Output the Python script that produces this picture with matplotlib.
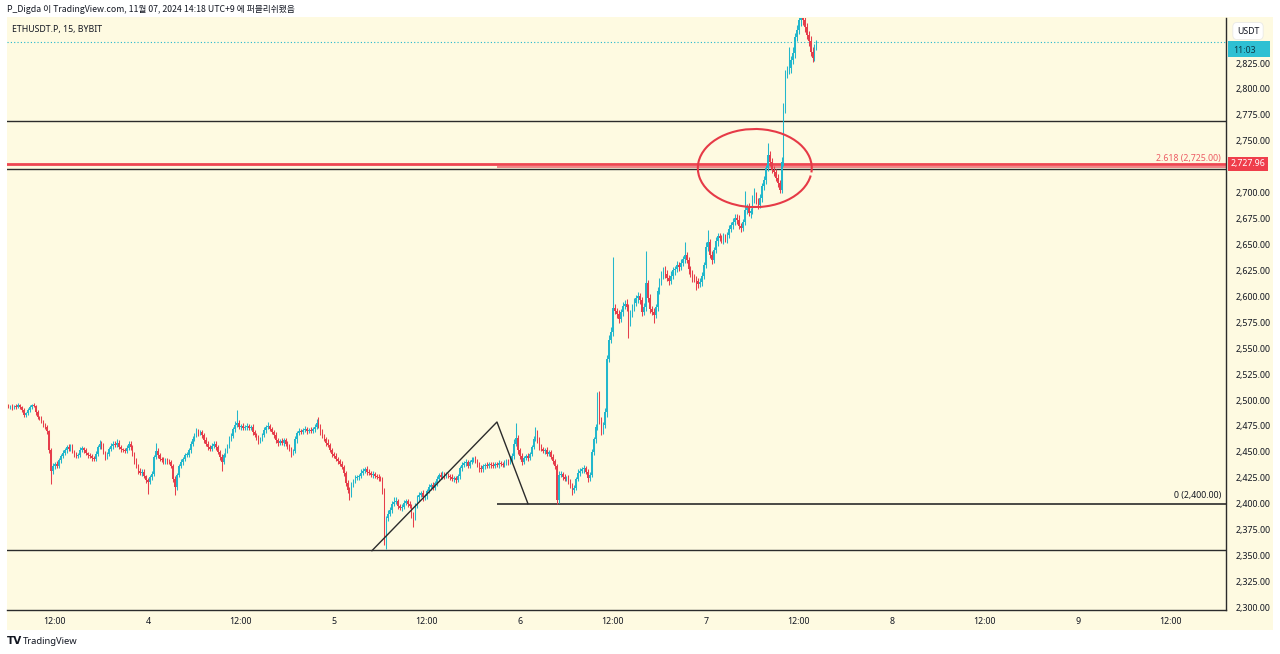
import matplotlib.pyplot as plt
import matplotlib.transforms as mtransforms
from matplotlib.patches import Arc, Rectangle
import numpy as np

# ETHUSDT.P 15m closes, Nov 3 06:00 -> Nov 7 14:15 (UTC+9), 8 bars per row
closes = [
    2493, 2494, 2492, 2494, 2493, 2495, 2493, 2490,
    2486, 2487, 2490, 2493, 2495, 2494, 2488, 2484,
    2483, 2480, 2476, 2474, 2470, 2452, 2432, 2436,
    2438, 2436, 2442, 2446, 2449, 2452, 2455, 2453,
    2456, 2451, 2448, 2446, 2447, 2452, 2454, 2452,
    2449, 2447, 2446, 2444, 2443, 2448, 2455, 2458,
    2456, 2450, 2445, 2448, 2453, 2456, 2458, 2457,
    2459, 2455, 2453, 2452, 2451, 2454, 2458, 2455,
    2448, 2441, 2436, 2432, 2430, 2431, 2427, 2423,
    2421, 2426, 2429, 2445, 2451, 2447, 2443, 2442,
    2440, 2442, 2441, 2440, 2436, 2424, 2416, 2428,
    2436, 2440, 2443, 2447, 2447, 2452, 2458, 2462,
    2466, 2470, 2468, 2469, 2466, 2461, 2458, 2455,
    2453, 2456, 2458, 2455, 2450, 2445, 2440, 2447,
    2452, 2456, 2462, 2465, 2472, 2476, 2478, 2474,
    2475, 2473, 2474, 2475, 2473, 2474, 2469, 2466,
    2463, 2461, 2462, 2466, 2471, 2474, 2475, 2472,
    2469, 2466, 2461, 2459, 2460, 2459, 2461, 2458,
    2455, 2453, 2449, 2451, 2462, 2468, 2470, 2469,
    2471, 2472, 2470, 2471, 2470, 2472, 2474, 2478,
    2475, 2469, 2465, 2462, 2459, 2457, 2452, 2448,
    2446, 2443, 2441, 2438, 2435, 2430, 2420, 2413,
    2408, 2419, 2422, 2425, 2426, 2427, 2430, 2432,
    2433, 2431, 2430, 2428, 2429, 2427, 2426, 2425,
    2424, 2412, 2378, 2386, 2390, 2394, 2400, 2402,
    2403, 2398, 2396, 2397, 2401, 2403, 2400, 2398,
    2389, 2386, 2398, 2406, 2408, 2410, 2406, 2407,
    2412, 2416, 2418, 2415, 2420, 2424, 2428, 2426,
    2429, 2427, 2428, 2427, 2426, 2424, 2425, 2423,
    2427, 2434, 2437, 2439, 2440, 2436, 2440, 2442,
    2443, 2441, 2438, 2434, 2433, 2436, 2437, 2436,
    2438, 2437, 2436, 2438, 2437, 2439, 2438, 2437,
    2439, 2441, 2440, 2442, 2446, 2458, 2463, 2452,
    2446, 2440, 2444, 2446, 2444, 2448, 2455, 2462,
    2468, 2462, 2455, 2453, 2451, 2452, 2448, 2450,
    2445, 2441, 2436, 2404, 2428, 2429, 2426, 2424,
    2425, 2422, 2418, 2413, 2415, 2424, 2430, 2432,
    2433, 2434, 2431, 2425, 2428, 2450, 2462, 2474,
    2505, 2481, 2470, 2476, 2488, 2540, 2558, 2566,
    2589, 2586, 2583, 2578, 2585, 2591, 2593, 2590,
    2575, 2583, 2590, 2594, 2598, 2600, 2596, 2585,
    2590, 2613, 2598, 2588, 2585, 2582, 2590, 2605,
    2615, 2620, 2625, 2622, 2618, 2615, 2620, 2625,
    2626, 2630, 2628, 2632, 2636, 2640, 2635, 2626,
    2622, 2618, 2617, 2615, 2612, 2614, 2620, 2630,
    2648, 2652, 2640, 2635, 2645, 2653, 2658, 2656,
    2654, 2657, 2655, 2659, 2665, 2669, 2672, 2676,
    2674, 2668, 2666, 2672, 2683, 2686, 2680, 2682,
    2694, 2698, 2692, 2688, 2695, 2706, 2712, 2724,
    2736, 2730, 2722, 2720, 2714, 2709, 2703, 2730,
    2782, 2815, 2818, 2820, 2828, 2835, 2850, 2857,
    2866, 2868, 2866, 2860, 2852, 2846, 2836, 2830,
    2840, 2845,
]
# wick length above / below the body (USDT)
wick_up = [
    2, 1, 2, 1, 2, 2, 1, 1,   2, 1, 2, 2, 1, 2, 1, 2,
    1, 2, 1, 2, 2, 1, 2, 3,   2, 3, 2, 2, 3, 2, 2, 3,
    2, 2, 1, 2, 2, 3, 2, 1,   2, 1, 2, 2, 2, 3, 2, 3,
    2, 3, 1, 2, 2, 3, 2, 2,   3, 2, 2, 1, 2, 3, 2, 2,
    2, 2, 3, 2, 2, 2, 2, 1,   2, 2, 3, 2, 8, 3, 2, 2,
    3, 2, 2, 2, 2, 2, 3, 2,   2, 3, 2, 2, 3, 2, 2, 3,
    2, 3, 2, 2, 2, 2, 3, 2,   2, 3, 2, 2, 2, 2, 3, 2,
    2, 2, 3, 3, 2, 4, 12, 3,  2, 3, 2, 3, 2, 2, 3, 2,
    2, 3, 2, 2, 3, 2, 4, 2,   2, 2, 3, 2, 2, 3, 2, 2,
    2, 3, 2, 2, 3, 2, 3, 2,   2, 3, 2, 2, 3, 2, 3, 4,
    6, 2, 3, 2, 2, 3, 2, 2,   2, 3, 2, 2, 3, 2, 2, 3,
    3, 2, 2, 3, 2, 2, 3, 2,   2, 3, 2, 2, 3, 2, 2, 3,
    2, 2, 3, 2, 4, 3, 3, 4,   3, 2, 2, 3, 3, 2, 2, 3,
    2, 3, 3, 2, 3, 2, 3, 2,   2, 3, 2, 3, 2, 3, 2, 3,
    3, 2, 3, 2, 2, 3, 2, 2,   2, 2, 3, 2, 3, 2, 2, 3,
    2, 3, 2, 2, 3, 2, 2, 3,   2, 2, 3, 2, 2, 3, 2, 2,
    3, 2, 2, 3, 3, 4, 15, 3,  2, 3, 2, 2, 3, 2, 2, 3,
    6, 3, 2, 3, 2, 2, 3, 2,   2, 3, 2, 2, 4, 3, 2, 3,
    2, 3, 2, 2, 3, 2, 3, 2,   2, 3, 2, 2, 3, 3, 2, 3,
    3, 4, 3, 3, 4, 3, 5, 4,   49, 4, 3, 4, 3, 4, 3, 4,
    3, 4, 3, 4, 3, 4, 3, 3,   4, 31, 3, 4, 3, 4, 3, 4,
    3, 4, 3, 4, 3, 3, 4, 3,   3, 4, 3, 4, 3, 12, 3, 3,
    3, 3, 4, 3, 3, 4, 3, 3,   4, 12, 3, 4, 3, 4, 3, 3,
    3, 4, 3, 3, 4, 3, 4, 3,   3, 4, 3, 3, 19, 3, 4, 3,
    4, 6, 3, 3, 4, 3, 4, 3,   12, 4, 3, 4, 3, 4, 3, 4,
    4, 3, 4, 20, 4, 5, 4, 5,  14, 12, 8, 5, 4, 4, 5, 4,
    3, 2,
]
wick_dn = [
    1, 2, 2, 1, 2, 1, 2, 2,   2, 2, 1, 2, 2, 1, 2, 2,
    2, 2, 2, 2, 3, 3, 13, 3,  3, 2, 2, 3, 2, 2, 3, 2,
    2, 2, 3, 2, 2, 2, 2, 3,   2, 3, 2, 3, 2, 2, 2, 2,
    3, 2, 3, 2, 2, 2, 3, 2,   2, 2, 3, 2, 2, 2, 2, 3,
    2, 3, 2, 3, 2, 3, 2, 3,   12, 2, 3, 2, 2, 3, 2, 2,
    2, 2, 3, 2, 2, 3, 8, 3,   2, 2, 3, 2, 2, 2, 3, 2,
    2, 2, 3, 2, 3, 2, 2, 3,   2, 2, 2, 3, 2, 3, 8, 2,
    2, 3, 2, 2, 2, 3, 2, 2,   3, 2, 2, 3, 2, 2, 3, 2,
    2, 3, 2, 2, 2, 3, 2, 2,   2, 3, 2, 3, 2, 2, 3, 2,
    2, 2, 4, 2, 2, 3, 2, 2,   2, 2, 3, 2, 2, 2, 3, 2,
    2, 3, 2, 2, 3, 2, 2, 3,   2, 2, 3, 2, 2, 3, 3, 3,
    4, 2, 3, 2, 2, 3, 2, 2,   2, 3, 2, 2, 3, 2, 2, 3,
    2, 3, 18, 22, 3, 2, 3, 2, 2, 3, 2, 3, 2, 2, 3, 2,
    3, 8, 2, 2, 3, 2, 3, 2,   2, 2, 3, 2, 2, 3, 2, 2,
    2, 3, 2, 2, 3, 2, 3, 3,   2, 3, 2, 2, 3, 2, 2, 2,
    2, 2, 3, 3, 2, 2, 3, 2,   2, 3, 2, 2, 2, 3, 2, 2,
    2, 2, 3, 2, 2, 3, 2, 4,   3, 3, 2, 2, 3, 2, 2, 2,
    2, 3, 3, 2, 2, 3, 2, 2,   2, 3, 3, 4, 3, 2, 3, 2,
    2, 3, 3, 5, 3, 2, 2, 3,   2, 3, 2, 4, 3, 2, 3, 3,
    3, 4, 4, 3, 3, 4, 3, 3,   4, 3, 4, 4, 3, 4, 3, 4,
    15, 4, 3, 4, 3, 4, 3, 4,  3, 4, 3, 4, 3, 8, 3, 4,
    3, 4, 3, 4, 3, 4, 3, 3,   4, 3, 4, 3, 3, 4, 3, 4,
    3, 4, 3, 9, 4, 3, 4, 3,   3, 4, 3, 4, 3, 3, 4, 3,
    3, 4, 3, 4, 3, 3, 4, 3,   4, 3, 4, 3, 3, 4, 3, 4,
    3, 4, 3, 4, 3, 4, 3, 4,   3, 4, 3, 4, 3, 4, 3, 3,
    4, 5, 4, 4, 5, 4, 5, 4,   4, 5, 4, 5, 4, 5, 4, 4,
    3, 2,
]
first_open = 2494
start_hour = -18          # hours relative to Nov 4 00:00
bar_hours = 0.25

# drawings on the chart
black_levels = [2769, 2722.8, 2355]
red_level = 2727.96
abc_hours = [28.9, 45.03, 49.03]
abc_prices = [2354.7, 2478.8, 2400]
fib_ratios = [0, 2.618]
ellipse_center = (78.3, 2723.7)
ellipse_size = (14.7, 75.3)

xtick_hours = [-12, 0, 12, 24, 36, 48, 60, 72, 84, 96, 108, 120, 132]
xtick_labels = ["12:00", "4", "12:00", "5", "12:00", "6", "12:00", "7", "12:00", "8", "12:00", "9", "12:00"]
ytick_prices = [2300, 2325, 2350, 2375, 2400, 2425, 2450, 2475, 2500, 2525, 2550,
                2575, 2600, 2625, 2650, 2675, 2700, 2750, 2775, 2800, 2825]

UP = '#22b7cc'
DOWN = '#e63e4b'
CREAM = '#fefae1'
INK = '#131722'
FONT = 'Noto Sans'

c = np.array(closes, float)
o = np.concatenate([[first_open], c[:-1]])
hi = np.maximum(o, c) + np.array(wick_up)
lo = np.minimum(o, c) - np.array(wick_dn)
t = start_hour + bar_hours * np.arange(len(c))
up = c >= o
cols = np.where(up, UP, DOWN)

fig = plt.figure(figsize=(12.8, 6.54), dpi=100)
fig.patch.set_facecolor('white')
fig.patches.append(Rectangle((7 / 1280, 24 / 654), 1266 / 1280, 613 / 654,
                             transform=fig.transFigure, facecolor=CREAM,
                             edgecolor='none', zorder=-1))
ax = fig.add_axes([7 / 1280, 44 / 654, 1219 / 1280, 592 / 654])
ax.set_facecolor(CREAM)
ax.set_xlim(-18.19, 139.1)
ax.set_ylim(2297.5, 2868.4)

# candles
ax.vlines(t, lo, hi, colors=cols, linewidth=0.75, zorder=3)
body = np.maximum(np.abs(c - o), 0.9)
ax.bar(t, body, bottom=np.minimum(o, c), width=0.2, color=cols, linewidth=0, zorder=3)

# horizontal lines
for lvl in black_levels:
    ax.axhline(lvl, color='#2b2b2b', linewidth=1.0, zorder=2)
ax.axhline(red_level, color='#ee4652', linewidth=2.0, zorder=2)

# ABC pattern and trend-based fib extension
ax.plot(abc_hours, abc_prices, color='#2b2b2b', linewidth=1.0, zorder=4)
leg = abc_prices[1] - abc_prices[0]
fib_colors = ['#2b2b2b', '#ef6f77']
for r, fc in zip(fib_ratios, fib_colors):
    lvl = abc_prices[2] + r * leg
    ax.hlines(lvl, abc_hours[1], 139.1, color=fc, linewidth=1.2, zorder=2)

blend = mtransforms.blended_transform_factory(ax.transAxes, ax.transData)
ax.text(0.9959, abc_prices[2] + 2.618 * leg + 8, "2.618 (2,725.00)", transform=blend,
        ha='right', va='center', fontsize=6.3, color='#ec5962', family=FONT)
ax.text(0.9959, abc_prices[2] + 7.5, "0 (2,400.00)", transform=blend,
        ha='right', va='center', fontsize=6.3, color=INK, family=FONT)

# hand drawn circle
ax.add_patch(Arc(ellipse_center, ellipse_size[0], ellipse_size[1], theta1=-30, theta2=315,
                 color='#e63a47', linewidth=1.5, zorder=5))

# last price line
ax.axhline(c[-1], color=UP, linewidth=0.8, linestyle=(0, (1, 2)), zorder=2)

# axes styling
for s in ['left', 'top']:
    ax.spines[s].set_visible(False)
for s in ['right', 'bottom']:
    ax.spines[s].set_color('#2b2b2b')
    ax.spines[s].set_linewidth(1.0)
ax.yaxis.tick_right()
ax.set_yticks(ytick_prices)
ax.set_yticklabels([f"{p:,.2f}" for p in ytick_prices])
ax.set_xticks(xtick_hours)
ax.set_xticklabels(xtick_labels)
ax.tick_params(axis='both', length=0, labelsize=6.4, labelcolor=INK)
ax.tick_params(axis='y', pad=7)
ax.tick_params(axis='x', pad=5)
for lab in ax.get_xticklabels() + ax.get_yticklabels():
    lab.set_family(FONT)

# red price tag
ax.add_patch(Rectangle((1.0016, red_level - 6.8), 0.033, 13.6, transform=blend,
                       facecolor='#ef3e4b', edgecolor='none', clip_on=False, zorder=6))
ax.text(1.018, red_level, "2,727.96", transform=blend, ha='center', va='center',
        fontsize=6.3, color='white', weight='bold', family=FONT, clip_on=False, zorder=7)
# last price / countdown tag
ax.add_patch(Rectangle((1.0016, 2830.8), 0.0345, 15.4, transform=blend,
                       facecolor='#2ec0d3', edgecolor='none', clip_on=False, zorder=6))
ax.text(1.006, 2837.5, "11:03", transform=blend, ha='left', va='center',
        fontsize=6.3, color='#0e3a47', family=FONT, clip_on=False, zorder=7)

fig.text(1248 / 1280, 1 - 31 / 654, "USDT", ha='center', va='center', fontsize=6.3,
         color=INK, family=FONT,
         bbox=dict(boxstyle='round,pad=0.45', facecolor='white', edgecolor='#e6e6e6', linewidth=0.5))

# titles
fig.text(7 / 1280, 1 - 9 / 654, "P_Digda 이 TradingView.com, 11월 07, 2024 14:18 UTC+9 에 퍼블리쉬됐음",
         ha='left', va='center', fontsize=6.3, color=INK,
         family=['Noto Sans CJK KR', 'DejaVu Sans'])
ax.text(0.004, 0.981, "ETHUSDT.P, 15, BYBIT", transform=ax.transAxes, ha='left', va='center',
        fontsize=6.3, color=INK, family=FONT)
fig.text(7 / 1280, 1 - 641 / 654, "TV", ha='left', va='center', fontsize=7.5,
         weight='bold', color=INK, family='DejaVu Sans')
fig.text(23 / 1280, 1 - 641 / 654, "TradingView", ha='left', va='center', fontsize=6.8,
         color=INK, family=FONT)

fig.savefig('out.png', dpi=100, facecolor=fig.get_facecolor())
